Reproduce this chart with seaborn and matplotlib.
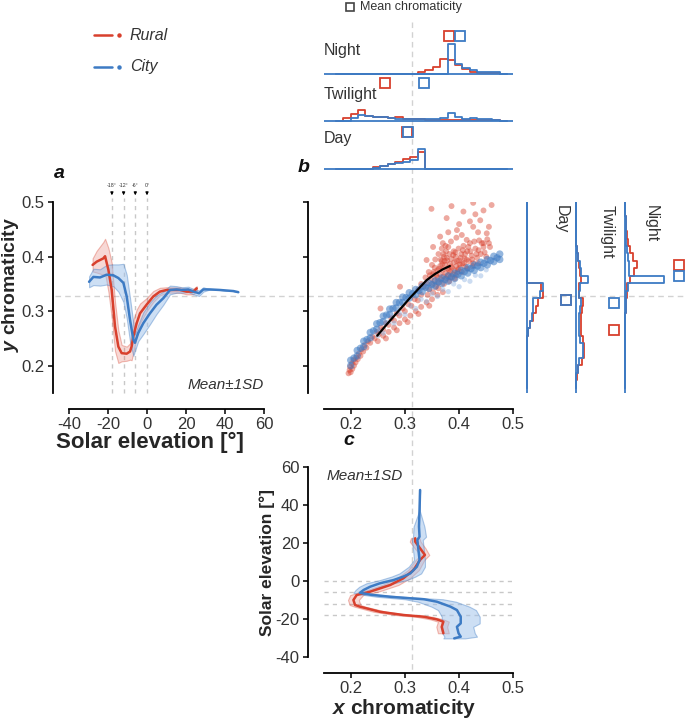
import numpy as np
import pandas as pd
import matplotlib
matplotlib.use("Agg")
import matplotlib.pyplot as plt
import matplotlib.colors as mcolors
import seaborn as sns
from matplotlib.lines import Line2D

sns.set_style("ticks")
plt.rcParams["font.family"] = ["Liberation Sans", "DejaVu Sans"]
plt.rcParams["axes.unicode_minus"] = False
plt.rcParams["mathtext.fontset"] = "custom"
plt.rcParams["mathtext.rm"] = "Liberation Sans"
plt.rcParams["mathtext.it"] = "Liberation Sans:italic:bold"
plt.rcParams["mathtext.bf"] = "Liberation Sans:bold"

RED = "#d8402d"
BLUE = "#3d7bc4"
TXT = "#333333"
DASH = "#d2d2d2"
W, H = 685, 721

# ---------------- panel a: y chromaticity vs solar elevation ----------------
a_rural_elev = [-27.9, -25.8, -22.4, -21.5, -19.8, -18.1, -16.4, -14.7, -13.0, -10.4, -8.7, -7.9,
                -7.0, -5.3, -3.6, -0.2, 3.2, 6.6, 10.1, 13.5, 16.9, 20.3, 23.8, 25.5]
a_rural_y = [0.385, 0.391, 0.397, 0.401, 0.376, 0.339, 0.272, 0.235, 0.223, 0.222, 0.226, 0.235,
             0.254, 0.278, 0.296, 0.312, 0.327, 0.336, 0.339, 0.339, 0.339, 0.336, 0.336, 0.342]
a_rural_sd = [0.012, 0.02, 0.03, 0.032, 0.04, 0.05, 0.045, 0.03, 0.015, 0.013, 0.015, 0.025,
              0.03, 0.025, 0.018, 0.012, 0.01, 0.007, 0.005, 0.005, 0.005, 0.005, 0.005, 0.004]
a_city_elev = [-29.7, -27.5, -24.1, -20.7, -17.3, -14.7, -12.1, -10.4, -8.7, -7.0, -6.2, -4.5, -1.9,
               1.5, 4.9, 8.4, 11.8, 15.2, 17.8, 21.2, 23.8, 26.7, 28.9, 32.3, 37.4, 44.3, 46.8]
a_city_y = [0.354, 0.363, 0.362, 0.367, 0.366, 0.361, 0.352, 0.327, 0.284, 0.248, 0.242, 0.260, 0.278,
            0.296, 0.312, 0.324, 0.339, 0.340, 0.339, 0.340, 0.336, 0.333, 0.340, 0.340, 0.339, 0.337, 0.335]
a_city_sd = [0.01, 0.015, 0.015, 0.018, 0.02, 0.025, 0.035, 0.04, 0.04, 0.03, 0.015, 0.015, 0.02,
             0.02, 0.017, 0.012, 0.008, 0.006, 0.005, 0.005, 0.005, 0.005, 0.004, 0, 0, 0, 0]
twilight_marks = [-18, -12, -6, 0]
twilight_labels = ["-18°", "-12°", "-6°", "0°"]

# ---------------- panel c: x chromaticity vs solar elevation ----------------
c_rural_elev = [-27.5, -24.1, -21.4, -20.2, -18.8, -17.9, -16.2, -13.5, -12.6, -10.0, -7.4, -5.6,
                -2.1, 1.4, 5.8, 11.1, 13.7, 17.2, 20.7, 22.5]
c_rural_x = [0.371, 0.368, 0.371, 0.359, 0.335, 0.297, 0.254, 0.217, 0.208, 0.205, 0.211, 0.236,
             0.273, 0.297, 0.316, 0.328, 0.337, 0.328, 0.319, 0.319]
c_rural_sd = [0.01, 0.01, 0.01, 0.012, 0.015, 0.015, 0.012, 0.01, 0.01, 0.01, 0.012, 0.015,
              0.015, 0.012, 0.01, 0.008, 0.008, 0.01, 0.01, 0.008]
c_city_elev = [-30.2, -29.3, -27.5, -24.1, -22.3, -18.8, -15.3, -13.5, -10.9, -9.6, -9.1, -8.3, -7.2,
               -6.2, -4.7, -3.0, -1.2, 0.5, 2.3, 4.0, 7.5, 11.1, 16.3, 21.6, 23.3, 28.6, 37.4, 47.9]
c_city_x = [0.391, 0.403, 0.399, 0.396, 0.403, 0.403, 0.396, 0.384, 0.359, 0.335, 0.310, 0.273, 0.236,
            0.217, 0.224, 0.236, 0.254, 0.279, 0.297, 0.310, 0.322, 0.327, 0.325, 0.323, 0.327, 0.326,
            0.327, 0.328]
c_city_sd = [0.02, 0.03, 0.03, 0.03, 0.035, 0.035, 0.035, 0.035, 0.035, 0.035, 0.03, 0.025, 0.015,
             0.012, 0.015, 0.02, 0.025, 0.025, 0.022, 0.02, 0.015, 0.01, 0.01, 0.01, 0.012, 0.01, 0, 0]
c_marks = [0, -6, -12, -18]

# ---------------- panel b: chromaticity scatter ----------------
rural_sc_x = [0.196, 0.198, 0.200, 0.199, 0.203, 0.202, 0.206, 0.205, 0.209, 0.210, 0.213, 0.215, 0.218,
              0.220, 0.223, 0.226, 0.229, 0.232, 0.236, 0.240, 0.244, 0.248, 0.252, 0.256, 0.260, 0.265,
              0.270, 0.275, 0.280, 0.285, 0.290, 0.296, 0.300, 0.306, 0.312, 0.318, 0.324, 0.330,
              0.250, 0.260, 0.270, 0.280, 0.290, 0.300, 0.310, 0.320, 0.330, 0.340, 0.350, 0.265, 0.285,
              0.305, 0.325, 0.345, 0.360, 0.370, 0.291, 0.255,
              0.335, 0.340, 0.345, 0.348, 0.350, 0.352, 0.355, 0.357, 0.360, 0.360, 0.362, 0.365, 0.365,
              0.367, 0.368, 0.370, 0.371, 0.372, 0.374, 0.375, 0.376, 0.378, 0.379, 0.380, 0.382, 0.383,
              0.384, 0.386, 0.387, 0.388, 0.390, 0.391, 0.392, 0.394, 0.395, 0.397, 0.399, 0.400, 0.402,
              0.404, 0.406, 0.408, 0.410, 0.412, 0.415, 0.418, 0.420, 0.423, 0.426, 0.430, 0.433, 0.437,
              0.440, 0.445, 0.450, 0.455, 0.325, 0.330, 0.338, 0.344, 0.350, 0.356, 0.362, 0.368, 0.375,
              0.385, 0.395, 0.405, 0.342, 0.352, 0.362, 0.372, 0.382, 0.392,
              0.358, 0.363, 0.369, 0.373, 0.377, 0.381, 0.385, 0.389, 0.393, 0.396, 0.398, 0.401, 0.403,
              0.407, 0.409, 0.411, 0.414, 0.417, 0.421, 0.424, 0.428, 0.432, 0.436, 0.442, 0.447, 0.452,
              0.366, 0.371, 0.376, 0.380, 0.355, 0.346, 0.353, 0.384, 0.394, 0.405, 0.415, 0.425, 0.435,
              0.349, 0.386, 0.426, 0.460, 0.377, 0.408, 0.439, 0.451, 0.426, 0.396, 0.365, 0.414, 0.445,
              0.457, 0.352, 0.340, 0.420, 0.400, 0.435, 0.380, 0.370, 0.430, 0.455, 0.445]
rural_sc_y = [0.186, 0.192, 0.188, 0.198, 0.194, 0.204, 0.200, 0.210, 0.206, 0.215, 0.212, 0.222, 0.218,
              0.230, 0.226, 0.238, 0.233, 0.245, 0.242, 0.253, 0.250, 0.262, 0.258, 0.270, 0.266, 0.278,
              0.275, 0.287, 0.283, 0.296, 0.292, 0.305, 0.300, 0.313, 0.310, 0.322, 0.320, 0.330,
              0.245, 0.255, 0.262, 0.270, 0.278, 0.285, 0.292, 0.300, 0.308, 0.316, 0.322, 0.250, 0.265,
              0.280, 0.295, 0.310, 0.330, 0.335, 0.345, 0.305,
              0.345, 0.352, 0.340, 0.360, 0.350, 0.368, 0.356, 0.345, 0.375, 0.362, 0.352, 0.383, 0.368,
              0.358, 0.392, 0.376, 0.364, 0.400, 0.385, 0.370, 0.360, 0.393, 0.379, 0.366, 0.405, 0.387,
              0.372, 0.396, 0.380, 0.368, 0.410, 0.390, 0.375, 0.400, 0.383, 0.372, 0.415, 0.393, 0.380,
              0.405, 0.388, 0.420, 0.397, 0.382, 0.410, 0.392, 0.425, 0.402, 0.388, 0.415, 0.398, 0.430,
              0.405, 0.418, 0.400, 0.425, 0.340, 0.350, 0.362, 0.372, 0.385, 0.395, 0.405, 0.415, 0.420,
              0.428, 0.435, 0.440, 0.330, 0.335, 0.342, 0.350, 0.355, 0.360,
              0.366, 0.378, 0.386, 0.392, 0.398, 0.376, 0.382, 0.403, 0.408, 0.392, 0.377, 0.386, 0.398,
              0.412, 0.388, 0.405, 0.395, 0.418, 0.410, 0.395, 0.428, 0.405, 0.412, 0.425, 0.408, 0.432,
              0.395, 0.405, 0.410, 0.418, 0.380, 0.366, 0.372, 0.362, 0.366, 0.372, 0.378, 0.383, 0.388,
              0.488, 0.493, 0.499, 0.495, 0.471, 0.483, 0.467, 0.443, 0.455, 0.449, 0.437, 0.431, 0.425,
              0.418, 0.418, 0.394, 0.465, 0.460, 0.445, 0.445, 0.425, 0.478, 0.455, 0.485]
city_sc_x = [0.200, 0.212, 0.224, 0.236, 0.248, 0.260, 0.272, 0.284, 0.296, 0.308, 0.320, 0.332, 0.344,
             0.356, 0.368, 0.380, 0.392, 0.404, 0.416, 0.428, 0.440, 0.452, 0.464, 0.475,
             0.206, 0.218, 0.230, 0.242, 0.254, 0.266, 0.278, 0.290, 0.302, 0.314, 0.326, 0.338, 0.350,
             0.362, 0.374, 0.386, 0.398, 0.410, 0.422, 0.434, 0.446, 0.458, 0.470,
             0.200, 0.212, 0.224, 0.236, 0.248, 0.260, 0.272, 0.284, 0.296, 0.308, 0.320, 0.332, 0.344,
             0.356, 0.368, 0.380, 0.392, 0.404, 0.416, 0.428, 0.440, 0.452, 0.464, 0.475,
             0.250, 0.270, 0.290, 0.310, 0.330, 0.350, 0.370, 0.390, 0.410, 0.430, 0.450,
             0.260, 0.280, 0.300, 0.320, 0.340, 0.360, 0.380, 0.400, 0.420, 0.440]
city_sc_y = [0.210, 0.228, 0.245, 0.261, 0.277, 0.291, 0.304, 0.316, 0.326, 0.334, 0.340, 0.346, 0.352,
             0.356, 0.361, 0.365, 0.370, 0.375, 0.380, 0.385, 0.390, 0.395, 0.401, 0.405,
             0.214, 0.232, 0.248, 0.264, 0.279, 0.293, 0.305, 0.316, 0.325, 0.332, 0.338, 0.344, 0.349,
             0.354, 0.358, 0.363, 0.368, 0.373, 0.378, 0.383, 0.388, 0.393, 0.398,
             0.200, 0.218, 0.235, 0.251, 0.267, 0.281, 0.294, 0.306, 0.316, 0.324, 0.330, 0.336, 0.342,
             0.346, 0.351, 0.355, 0.360, 0.365, 0.370, 0.375, 0.380, 0.385, 0.391, 0.395,
             0.255, 0.280, 0.296, 0.310, 0.322, 0.332, 0.340, 0.350, 0.358, 0.366, 0.376,
             0.260, 0.278, 0.294, 0.305, 0.318, 0.327, 0.336, 0.345, 0.355, 0.365]
city_sc_group = ["core"] * 71 + ["spread"] * 21
planck_x = [0.249, 0.265, 0.279, 0.295, 0.309, 0.325, 0.340, 0.355, 0.370, 0.383]
planck_y = [0.255, 0.274, 0.290, 0.308, 0.324, 0.341, 0.357, 0.368, 0.377, 0.383]

# ---------------- marginal histograms ----------------
x_bin_start, bin_w = 0.17224, 0.01376          # 23 bins in x chromaticity
hx_night_rural = [0, 0, 0, 0, 0, 0, 0, 0, 0, 0, 0, 1.7, 3.7, 7.0, 14.5, 14.0, 8.5, 4.5, 2.0, 0.7, 0.5, 0.5, 0]
hx_night_city = [0, 0, 0, 0, 0, 0, 0, 0, 0, 0, 0, 0, 0, 0, 0, 30.0, 9.3, 5.3, 3.5, 2.0, 2.0, 2.0, 0]
hx_twil_rural = [0, 2.8, 7.0, 10.8, 4.5, 3.6, 3.6, 2.8, 3.5, 1.5, 1.2, 1.2, 1.0, 1.0, 0.8, 0.6, 0.5, 0.4, 0.4, 0.4, 0.4, 0.4, 0]
hx_twil_city = [0, 0, 2.2, 5.2, 4.2, 3.6, 3.3, 2.6, 2.0, 1.2, 1.2, 1.2, 1.2, 1.2, 2.8, 7.2, 3.2, 1.7, 2.3, 1.2, 1.2, 1.0, 0]
hx_day_rural = [0, 0, 0, 0, 0.7, 2.2, 3.5, 5.5, 7.5, 10.0, 12.3, 17.7, 0, 0, 0, 0, 0, 0, 0, 0, 0, 0, 0]
hx_day_city = [0, 0, 0, 0, 0.8, 1.7, 3.8, 5.8, 6.5, 7.8, 9.7, 20.7, 0, 0, 0, 0, 0, 0, 0, 0, 0, 0, 0]
y_bin_start, ybin_w = 0.3513 - 14 * 0.0137, 0.0137   # 26 bins in y chromaticity
hy_night_rural = [0, 0, 0, 0, 0, 0, 0, 0, 0, 0, 0.5, 1.0, 1.3, 2.0, 4.7, 9.0, 11.8, 7.8, 4.8, 2.6, 1.3, 0.7, 0.3, 0, 0, 0]
hy_night_city = [0, 0, 0, 0, 0, 0, 0, 0, 0, 0, 0.3, 0.7, 1.0, 2.5, 39.0, 4.0, 3.5, 2.5, 1.5, 0.7, 0.7, 0.5, 0.3, 0, 0, 0]
hy_twil_rural = [0, 0.5, 2.0, 5.7, 8.3, 8.3, 7.0, 5.0, 4.5, 5.0, 6.0, 7.0, 2.5, 3.0, 5.0, 3.5, 3.0, 1.5, 0.5, 0, 0, 0, 0, 0, 0, 0]
hy_twil_city = [0, 0.3, 1.5, 3.3, 6.7, 6.7, 4.0, 3.0, 3.0, 3.0, 4.0, 5.0, 2.5, 4.3, 11.5, 5.0, 4.0, 1.5, 0.5, 0, 0, 0, 0, 0, 0, 0]
hy_day_rural = [0, 0, 0, 0, 0, 0, 0, 1.0, 2.7, 6.0, 8.7, 11.0, 15.3, 13.3, 0, 0, 0, 0, 0, 0, 0, 0, 0, 0, 0, 0]
hy_day_city = [0, 0, 0, 0, 0, 0, 0, 1.0, 2.7, 4.3, 6.0, 6.0, 12.7, 16.0, 0, 0, 0, 0, 0, 0, 0, 0, 0, 0, 0, 0]

mean_x_rural = {"Night": 0.381, "Twilight": 0.263, "Day": 0.304}
mean_x_city = {"Night": 0.401, "Twilight": 0.335, "Day": 0.306}
mean_y_rural = {"Night": 0.385, "Twilight": 0.266, "Day": 0.321}
mean_y_city = {"Night": 0.365, "Twilight": 0.315, "Day": 0.3206}

# ============================================================================
fig = plt.figure(figsize=(6.85, 7.21), dpi=100)


def rect(l, t, r, b):
    return [l / W, 1 - b / H, (r - l) / W, (b - t) / H]


def fx(px):
    return px / W


def fy(py):
    return 1 - py / H


def style_main(ax):
    ax.patch.set_alpha(0)
    for s in ["top", "right"]:
        ax.spines[s].set_visible(False)
    for s in ["left", "bottom"]:
        ax.spines[s].set_position(("outward", 11.5))
        ax.spines[s].set_linewidth(1.3)
        ax.spines[s].set_color("black")
    ax.tick_params(direction="out", length=3.5, width=1.1, color="black",
                   labelsize=12, labelcolor=TXT, pad=2.5)


def rgba(c, a):
    return mcolors.to_rgba(c, a)


# figure-level dashed guides
fig.add_artist(Line2D([fx(55), fx(685)], [fy(295.7), fy(295.7)], color=DASH, lw=1,
                      ls=(0, (4, 3)), zorder=-1))
fig.add_artist(Line2D([fx(411.7), fx(411.7)], [fy(22), fy(672)], color=DASH, lw=1,
                      ls=(0, (4, 3)), zorder=-1))

# ---------------- panel a ----------------
axa = fig.add_axes(rect(69, 202.3, 264, 392.9))
style_main(axa)
for e in twilight_marks:
    axa.axvline(e, ymin=0, ymax=1.025, color="#c8c8c8", lw=1, ls=(0, (3, 3)), clip_on=False, zorder=0)
ar = np.array(a_rural_y); ars = np.array(a_rural_sd)
ac = np.array(a_city_y); acs = np.array(a_city_sd)
axa.fill_between(a_rural_elev, ar - ars, ar + ars, facecolor=rgba(RED, 0.2),
                 edgecolor=rgba(RED, 0.35), lw=0.8, zorder=1)
axa.fill_between(a_city_elev, ac - acs, ac + acs, facecolor=rgba("#9dc0ea", 0.5),
                 edgecolor=rgba(BLUE, 0.4), lw=0.8, zorder=2)
sns.lineplot(x=a_rural_elev, y=a_rural_y, color=RED, lw=1.8, sort=False, estimator=None, ax=axa, zorder=3)
sns.lineplot(x=a_city_elev, y=a_city_y, color=BLUE, lw=1.8, sort=False, estimator=None, ax=axa, zorder=4)
axa.set_xlim(-40, 60)
axa.set_ylim(0.15, 0.5)
axa.set_xticks([-40, -20, 0, 20, 40, 60])
axa.set_yticks([0.2, 0.3, 0.4, 0.5])
axa.set_xlabel("Solar elevation [°]", fontsize=16, fontweight="bold")
axa.xaxis.set_label_coords(0.415, -0.205)
axa.set_ylabel(r"$y$ chromaticity", fontsize=14, fontweight="bold")
axa.yaxis.set_label_coords(-0.245, 0.571)
for e, lab in zip(twilight_marks, twilight_labels):
    axa.annotate("", xy=(e, 1.022), xytext=(e, 1.068), xycoords=("data", "axes fraction"),
                 arrowprops=dict(arrowstyle="-|>", lw=0.8, color="black", mutation_scale=4))
    axa.text(e, 1.09, lab, transform=axa.get_xaxis_transform(), ha="center", va="center",
             fontsize=3.8, color=TXT)
axa.text(60, 0.165, "Mean±1SD", ha="right", va="center", fontsize=11, style="italic", color=TXT)

# ---------------- panel b ----------------
axb = fig.add_axes(rect(323.6, 202.3, 513.3, 392.9))
style_main(axb)
rural_df = pd.DataFrame({"x": rural_sc_x, "y": rural_sc_y})
city_df = pd.DataFrame({"x": city_sc_x, "y": city_sc_y, "g": city_sc_group})
sns.scatterplot(data=rural_df, x="x", y="y", color=RED, s=18, alpha=0.45, edgecolor="none", ax=axb, zorder=1)
sns.scatterplot(data=city_df[city_df.g == "spread"], x="x", y="y", color="#8fb3e0", s=14, alpha=0.45,
                edgecolor="none", ax=axb, zorder=2)
sns.scatterplot(data=city_df[city_df.g == "core"], x="x", y="y", color=BLUE, s=28, alpha=0.55,
                edgecolor="none", ax=axb, zorder=3)
sns.lineplot(x=planck_x, y=planck_y, color="black", lw=1.6, sort=False, estimator=None, ax=axb, zorder=4)
axb.set_xlim(0.15, 0.5)
axb.set_ylim(0.15, 0.5)
axb.set_xticks([0.2, 0.3, 0.4, 0.5])
axb.set_yticks([0.2, 0.3, 0.4, 0.5])
axb.tick_params(labelleft=False)
axb.set_xlabel("")
axb.set_ylabel("")

# ---------------- panel c ----------------
axc = fig.add_axes(rect(323.6, 467, 513.3, 657))
style_main(axc)
for e in c_marks:
    axc.axhline(e, color="#c8c8c8", lw=1, ls=(0, (3, 3)), zorder=0)
cr = np.array(c_rural_x); crs = np.array(c_rural_sd)
cc = np.array(c_city_x); ccs = np.array(c_city_sd)
axc.fill_betweenx(c_rural_elev, cr - crs, cr + crs, facecolor=rgba(RED, 0.2),
                  edgecolor=rgba(RED, 0.35), lw=0.8, zorder=1)
axc.fill_betweenx(c_city_elev, cc - ccs, cc + ccs, facecolor=rgba("#9dc0ea", 0.5),
                  edgecolor=rgba(BLUE, 0.4), lw=0.8, zorder=2)
sns.lineplot(x=c_rural_x, y=c_rural_elev, orient="y", sort=False, estimator=None, color=RED, lw=1.8,
             ax=axc, zorder=3)
sns.lineplot(x=c_city_x, y=c_city_elev, orient="y", sort=False, estimator=None, color=BLUE, lw=1.8,
             ax=axc, zorder=4)
axc.set_xlim(0.15, 0.5)
axc.set_ylim(-40, 60)
axc.set_xticks([0.2, 0.3, 0.4, 0.5])
axc.set_yticks([-40, -20, 0, 20, 40, 60])
axc.set_xlabel(r"$x$ chromaticity", fontsize=15, fontweight="bold")
axc.xaxis.set_label_coords(0.424, -0.21)
axc.set_ylabel("Solar elevation [°]", fontsize=12.5, fontweight="bold")
axc.yaxis.set_label_coords(-0.255, 0.5)
axc.text(0.155, 55, "Mean±1SD", ha="left", va="center", fontsize=11, style="italic", color=TXT)

# ---------------- top marginal histograms (x chromaticity) ----------------
xedges = x_bin_start + bin_w * np.arange(len(hx_night_rural) + 1)
xcent = (xedges[:-1] + xedges[1:]) / 2


def top_hist(name, baseline, height, rural, city, label_dy):
    ax = fig.add_axes(rect(323.6, baseline - height, 513.3, baseline + 3))
    for counts, col in [(rural, RED), (city, BLUE)]:
        df = pd.DataFrame({"x": xcent, "w": counts})
        sns.histplot(data=df, x="x", weights="w", bins=list(xedges), element="step", fill=False,
                     color=col, lw=1.3, ax=ax)
    ax.axhline(0, color=BLUE, lw=1.3)
    ax.plot([mean_x_rural[name]], [37.7], marker="s", ms=7, mfc="none", mec=RED, mew=1.3,
            ls="none", clip_on=False)
    ax.plot([mean_x_city[name]], [37.7], marker="s", ms=7, mfc="none", mec=BLUE, mew=1.3,
            ls="none", clip_on=False)
    ax.text(0.1495, label_dy, name, ha="left", va="center", fontsize=11.5, color=TXT)
    ax.set_xlim(0.15, 0.5)
    ax.set_ylim(-3, height)
    ax.axis("off")


top_hist("Night", 73.7, 52, hx_night_rural, hx_night_city, 23.7)
top_hist("Twilight", 120.7, 45, hx_twil_rural, hx_twil_city, 26.7)
top_hist("Day", 169.3, 45, hx_day_rural, hx_day_city, 30.7)

# ---------------- right marginal histograms (y chromaticity) ----------------
yedges = y_bin_start + ybin_w * np.arange(len(hy_night_rural) + 1)
ycent = (yedges[:-1] + yedges[1:]) / 2


def right_hist(name, bx, width, rural, city, sq_dx, lab_dx):
    ax = fig.add_axes(rect(bx - 3, 202.3, bx + width, 392.9))
    for counts, col in [(rural, RED), (city, BLUE)]:
        df = pd.DataFrame({"y": ycent, "w": counts})
        sns.histplot(data=df, y="y", weights="w", bins=list(yedges), element="step", fill=False,
                     color=col, lw=1.3, ax=ax)
    ax.axvline(0, color=BLUE, lw=1.3)
    ax.plot([sq_dx], [mean_y_rural[name]], marker="s", ms=7, mfc="none", mec=RED, mew=1.3,
            ls="none", clip_on=False)
    ax.plot([sq_dx], [mean_y_city[name]], marker="s", ms=7, mfc="none", mec=BLUE, mew=1.3,
            ls="none", clip_on=False)
    ax.text(lab_dx, 0.495, name, rotation=270, ha="center", va="top", fontsize=11.5, color=TXT)
    ax.set_ylim(0.15, 0.5)
    ax.set_xlim(-3, width)
    ax.axis("off")


right_hist("Day", 527.3, 47, hy_day_rural, hy_day_city, 38.7, 34.4)
right_hist("Twilight", 576.0, 48, hy_twil_rural, hy_twil_city, 38.0, 30.7)
right_hist("Night", 625.3, 59, hy_night_rural, hy_night_city, 53.4, 26.4)

# ---------------- legend & annotations ----------------
for yy, col, lab in [(35, RED, "Rural"), (66.7, BLUE, "City")]:
    fig.add_artist(Line2D([fx(94.3), fx(112.3)], [fy(yy), fy(yy)], color=col, lw=1.8))
    fig.add_artist(Line2D([fx(119.3)], [fy(yy)], color=col, marker="o", ms=2.2, ls="none"))
    fig.text(fx(130), fy(yy), lab, ha="left", va="center", fontsize=11.5, style="italic", color=TXT)

fig.add_artist(Line2D([fx(350)], [fy(6.7)], marker="s", ms=6, mfc="none", mec="#444444", mew=1.2,
                      ls="none"))
fig.text(fx(360), fy(6.7), "Mean chromaticity", ha="left", va="center", fontsize=9, color=TXT)

for px, py, lab in [(59, 173, "a"), (304, 167, "b"), (349, 441, "c")]:
    fig.text(fx(px), fy(py), lab, ha="center", va="center", fontsize=14, fontweight="bold",
             style="italic", color="#111111")

fig.savefig("out.png", dpi=100)
